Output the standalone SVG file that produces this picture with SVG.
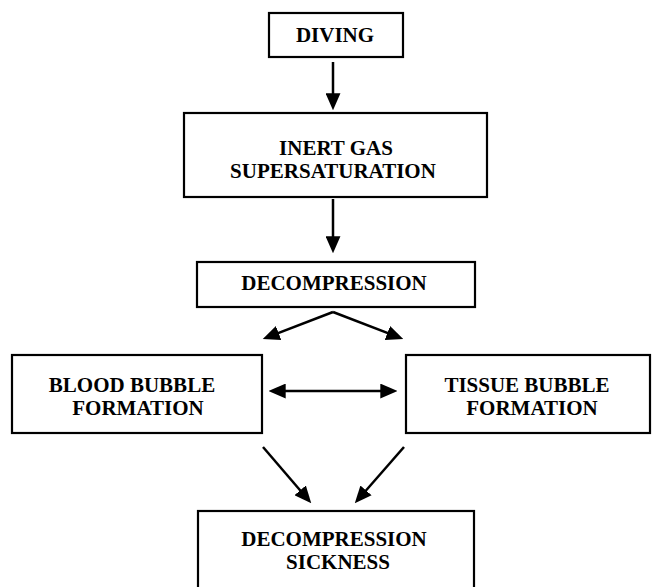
<svg xmlns="http://www.w3.org/2000/svg" width="652" height="587" viewBox="0 0 652 587">
<style>
.box{fill:#fff;stroke:#000;stroke-width:2.2}
.t{font-family:"Liberation Serif","Times New Roman",serif;font-weight:bold;font-size:21px;fill:#000;text-anchor:middle}
.c{fill:none;stroke:#000;stroke-width:2.5}
</style>
<defs>
<marker id="ah" markerUnits="userSpaceOnUse" markerWidth="17" markerHeight="15" viewBox="0 0 16 14" refX="11" refY="7" orient="auto-start-reverse">
<path d="M0,0 L16,7 L0,14 z" fill="#000"/>
</marker>
</defs>
<rect width="652" height="587" fill="#fff"/>
<g id="connectors">
<line class="c" x1="333" y1="62" x2="333" y2="105" marker-end="url(#ah)"/>
<line class="c" x1="333" y1="199" x2="333" y2="248" marker-end="url(#ah)"/>
<line class="c" x1="333" y1="312" x2="267.7" y2="337.2" marker-end="url(#ah)"/>
<line class="c" x1="333" y1="312" x2="398.3" y2="337.2" marker-end="url(#ah)"/>
<line class="c" x1="274" y1="391" x2="392" y2="391" marker-start="url(#ah)" marker-end="url(#ah)"/>
<line class="c" x1="263" y1="447" x2="307.8" y2="499.2" marker-end="url(#ah)"/>
<line class="c" x1="404" y1="447" x2="358.3" y2="499.2" marker-end="url(#ah)"/>
</g>
<g id="diving">
<rect class="box" x="269" y="13" width="134" height="44"/>
<text class="t" x="335" y="42">DIVING</text>
</g>
<g id="inert-gas">
<rect class="box" x="184" y="113" width="303" height="84"/>
<text class="t" x="336" y="155">INERT GAS</text>
<text class="t" x="333" y="178">SUPERSATURATION</text>
</g>
<g id="decompression">
<rect class="box" x="197" y="262" width="278" height="45"/>
<text class="t" x="334" y="290">DECOMPRESSION</text>
</g>
<g id="blood-bubble">
<rect class="box" x="12" y="355" width="250" height="78"/>
<text class="t" x="132" y="392">BLOOD BUBBLE</text>
<text class="t" x="138" y="415">FORMATION</text>
</g>
<g id="tissue-bubble">
<rect class="box" x="406" y="355" width="244" height="78"/>
<text class="t" x="527" y="392">TISSUE BUBBLE</text>
<text class="t" x="532" y="415">FORMATION</text>
</g>
<g id="decompression-sickness">
<rect class="box" x="198" y="511" width="276" height="90"/>
<text class="t" x="334" y="546">DECOMPRESSION</text>
<text class="t" x="338" y="569">SICKNESS</text>
</g>
</svg>
